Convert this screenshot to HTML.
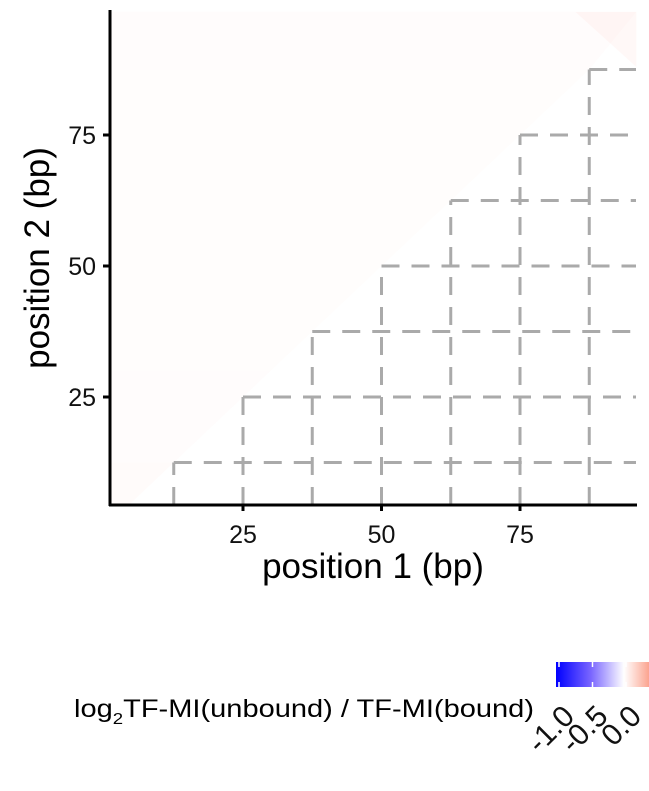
<!DOCTYPE html>
<html><head><meta charset="utf-8"><style>
html,body{margin:0;padding:0;background:#fff;}
svg{display:block;font-family:"Liberation Sans",Arial,sans-serif;}
</style></head><body>
<svg id="chart" width="649" height="791">
<defs>
<linearGradient id="cb" x1="0" x2="1" y1="0" y2="0">
<stop offset="0" stop-color="#0000ff"/>
<stop offset="0.35" stop-color="#7a66ff"/>
<stop offset="0.68" stop-color="#ffffff"/>
<stop offset="1" stop-color="#fa8a70"/>
</linearGradient>
</defs>
<g id="heat"></g>
<g id="grid"></g>
<line x1="110" y1="10" x2="110" y2="506" stroke="#000" stroke-width="3"/>
<line x1="109" y1="505" x2="637" y2="505" stroke="#000" stroke-width="3"/>
<g id="axes"></g>
<text x="373" y="578" font-size="35" text-anchor="middle">position 1 (bp)</text>
<text transform="translate(49,258) rotate(-90)" font-size="35" text-anchor="middle">position 2 (bp)</text>
<text x="74" y="717" font-size="25" textLength="460" lengthAdjust="spacingAndGlyphs">log<tspan font-size="16" dy="7">2</tspan><tspan dy="-7">TF-MI(unbound) / TF-MI(bound)</tspan></text>
<rect x="556" y="662" width="100" height="25" fill="url(#cb)"/>
<g id="legend"></g>
</svg>
<script>
const guides = [12.5, 25, 37.5, 50, 62.5, 75, 87.5];
const xTicks = [25, 50, 75];
const yTicks = [25, 50, 75];
const legendTicks = [-1.0, -0.5, 0.0];
const legendLabels = ["-1.0", "-0.5", "0.0"];
const heatRows = [5, 20, 40, 60, 80, 95];
const heatVals = [0.03, 0.02, 0.015, 0.015, 0.015, 0.02];

const X = v => 104.5 + v * 5.54;
const Y = v => 528 - v * 5.24;
const L = v => 626 + v * 67;
const NS = "http://www.w3.org/2000/svg";
function mk(tag, attrs, parent) {
  const e = document.createElementNS(NS, tag);
  for (const k in attrs) e.setAttribute(k, attrs[k]);
  parent.appendChild(e);
  return e;
}
const heat = document.getElementById('heat');
const grid = document.getElementById('grid');
const axes = document.getElementById('axes');
const legend = document.getElementById('legend');
const xMax = 96, yMax = 98.5, yMin = 4.4;

heatRows.forEach((r, i) => {
  const y0 = i === 0 ? yMin : (heatRows[i - 1] + r) / 2;
  const y1 = i === heatRows.length - 1 ? yMax : (r + heatRows[i + 1]) / 2;
  const a = heatVals[i];
  const x0 = Math.min(xMax, Math.max(1, y0)), x1 = Math.min(xMax, Math.max(1, y1));
  const p = mk('polygon', {
    points: `${X(1)},${Y(y0)} ${X(x0)},${Y(y0)} ${X(x1)},${Y(y1)} ${X(1)},${Y(y1)}`,
    fill: `rgba(250,120,90,${a})`
  }, heat);
  
  
});
const tri = mk('polygon', {
  points: `${X(85)},${Y(yMax)} ${X(xMax)},${Y(yMax)} ${X(xMax)},${Y(88)}`,
  fill: 'rgba(250,120,90,0.05)'
}, heat);



guides.forEach(g => {
  const v = mk('line', {x1: X(g), y1: 505, x2: X(g), y2: Y(g), stroke: '#aaa', 'stroke-width': 3, 'stroke-dasharray': '18 12'}, grid);
  
  
  const h = mk('line', {x1: X(g), y1: Y(g), x2: 636, y2: Y(g), stroke: '#aaa', 'stroke-width': 3, 'stroke-dasharray': '18 12'}, grid);
  
  
});

xTicks.forEach(t => {
  const l = mk('line', {x1: X(t), y1: 505, x2: X(t), y2: 511, stroke: '#000', 'stroke-width': 3}, axes);
  
  
  const tx = mk('text', {x: X(t), y: 543, 'font-size': 25, 'text-anchor': 'middle', fill: '#111'}, axes);
  tx.textContent = t;
  
  
});
yTicks.forEach(t => {
  const l = mk('line', {x1: 103, y1: Y(t), x2: 110, y2: Y(t), stroke: '#000', 'stroke-width': 3}, axes);
  
  
  const tx = mk('text', {x: 96, y: Y(t) + 9, 'font-size': 25, 'text-anchor': 'end', fill: '#111'}, axes);
  tx.textContent = t;
  
  
});
legendTicks.forEach((t, i) => {
  const a = mk('line', {x1: L(t), y1: 662, x2: L(t), y2: 667, stroke: '#fff', 'stroke-width': 1.5}, legend);
  
  
  const b = mk('line', {x1: L(t), y1: 682, x2: L(t), y2: 687, stroke: '#fff', 'stroke-width': 1.5}, legend);
  
  
  const tx = mk('text', {transform: `translate(${L(t) + 17},${718}) rotate(-45)`, 'font-size': 30, 'text-anchor': 'end', fill: '#111'}, legend);
  tx.textContent = legendLabels[i];
  
  
});
</script>
</body></html>
